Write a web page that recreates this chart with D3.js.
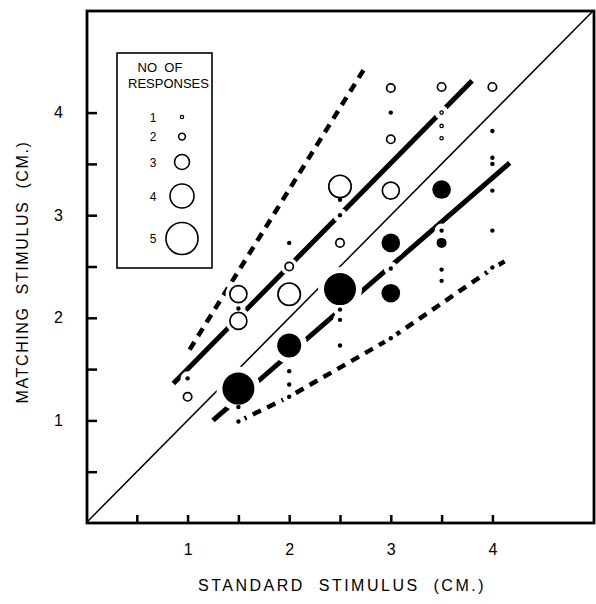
<!DOCTYPE html>
<html>
<head>
<meta charset="utf-8">
<script src="https://cdn.jsdelivr.net/npm/d3@7"></script>
<style>
  body { margin: 0; background: #fff; }
  text { font-family: "Liberation Sans", Arial, Helvetica, sans-serif; fill: #000; }
</style>
</head>
<body>
<div id="chart"></div>
<script>
// tick values and labels
const xTicks = [0.5, 1, 1.5, 2, 2.5, 3, 3.5, 4];
const yTicks = [0.5, 1, 1.5, 2, 2.5, 3, 3.5, 4];
const legendCounts = [1, 2, 3, 4, 5];

// open circles: [standard, matching, no. of responses]
const openPts = [
  [1, 1.23, 2],
  [1.5, 2.23, 3], [1.5, 1.97, 3],
  [2, 2.5, 2], [2, 2.23, 4],
  [2.5, 3.28, 4], [2.5, 2.73, 2],
  [3, 4.24, 2], [3, 3.74, 2], [3, 3.24, 3],
  [3.5, 4.25, 2], [3.5, 4.0, 1], [3.5, 3.87, 1], [3.5, 3.75, 1],
  [4, 4.25, 2]
];

// filled circles: [standard, matching, no. of responses]
const filledPts = [
  [1, 1.41, 1],
  [1.5, 2.09, 1], [1.5, 1.31, 5], [1.5, 1.13, 1], [1.5, 0.99, 1],
  [2, 2.73, 1], [2, 1.73, 4], [2, 1.48, 1], [2, 1.35, 1], [2, 1.23, 1],
  [2.5, 3.15, 1], [2.5, 3.0, 1], [2.5, 2.28, 5], [2.5, 2.08, 1], [2.5, 1.98, 1], [2.5, 1.73, 1],
  [3, 4.0, 1], [3, 2.73, 3], [3, 2.48, 1], [3, 2.24, 3], [3, 1.8, 1],
  [3.5, 3.25, 3], [3.5, 2.85, 1], [3.5, 2.73, 2], [3.5, 2.47, 1], [3.5, 2.36, 1],
  [4, 3.82, 1], [4, 3.56, 1], [4, 3.5, 1], [4, 3.24, 1], [4, 2.85, 1], [4, 2.49, 1]
];

// lines
const identityLine = [[0, 0], [5, 5]];
const upperFit = [[0.86, 1.36], [3.8, 4.31]];
const lowerFit = [[1.25, 1.0], [4.17, 3.51]];
const upperBound = [[1.02, 1.69], [2.76, 4.46]];
const lowerBound = [[1.5, 0.99], [2, 1.23], [3, 1.8], [4, 2.48], [4.12, 2.55]];

const width = 596, height = 604;
const x = d3.scaleLinear().domain([0, 5]).range([86, 594]);
const y = d3.scaleLinear().domain([0, 5]).range([523, 10]);
const plotR = d3.scaleOrdinal().domain(legendCounts).range([2.2, 5, 9.3, 12, 16]);
const legendR = d3.scaleOrdinal().domain(legendCounts).range([1.7, 3.4, 7.5, 12, 16]);

const svg = d3.select("#chart").append("svg").attr("width", width).attr("height", height);

svg.append("clipPath").attr("id", "clip")
  .append("rect").attr("x", 87).attr("y", 11).attr("width", 507).attr("height", 512);

const line = d3.line().x(d => x(d[0])).y(d => y(d[1]));
const plot = svg.append("g").attr("clip-path", "url(#clip)");

// identity line
plot.append("path").datum(identityLine).attr("d", line)
  .attr("fill", "none").attr("stroke", "#000").attr("stroke-width", 1.5);

// fitted lines
[upperFit, lowerFit].forEach(l => {
  plot.append("path").datum(l).attr("d", line)
    .attr("fill", "none").attr("stroke", "#000").attr("stroke-width", 5);
});

// range bounds
[upperBound, lowerBound].forEach(l => {
  plot.append("path").datum(l).attr("d", line)
    .attr("fill", "none").attr("stroke", "#000").attr("stroke-width", 4.5)
    .attr("stroke-dasharray", "9,7");
});

const pts = openPts.map(d => ({ sx: d[0], my: d[1], n: d[2], filled: false }))
  .concat(filledPts.map(d => ({ sx: d[0], my: d[1], n: d[2], filled: true })));

// white halos cut the lines around the marks
plot.selectAll("circle.halo").data(pts).join("circle")
  .attr("class", "halo")
  .attr("cx", d => x(d.sx)).attr("cy", d => y(d.my))
  .attr("r", d => plotR(d.n) + (d.n === 1 ? 4.8 : d.filled ? 6 : 3.5))
  .attr("fill", "#fff");

plot.selectAll("circle.pt").data(pts).join("circle")
  .attr("class", "pt")
  .attr("cx", d => x(d.sx)).attr("cy", d => y(d.my))
  .attr("r", d => d.filled ? plotR(d.n) : plotR(d.n) - (d.n === 1 ? 0.5 : 0.8))
  .attr("fill", d => d.filled ? "#000" : "#fff")
  .attr("stroke", d => d.filled ? "none" : "#000")
  .attr("stroke-width", d => d.n === 1 ? 1.3 : 1.7);

// axes with inward ticks
const fmt = d => Number.isInteger(d) ? d : "";
const xAxis = svg.append("g").attr("transform", "translate(0,523)")
  .call(d3.axisBottom(x).tickValues(xTicks).tickSize(-8).tickPadding(21).tickFormat(fmt));
const yAxis = svg.append("g").attr("transform", "translate(87,0)")
  .call(d3.axisLeft(y).tickValues(yTicks).tickSize(-10).tickPadding(24).tickFormat(fmt));
[xAxis, yAxis].forEach(a => {
  a.select(".domain").remove();
  a.selectAll(".tick line").attr("stroke", "#000").attr("stroke-width", 2.5);
  a.selectAll(".tick text").attr("font-size", 16).attr("font-family", null);
});

// frame
svg.append("rect").attr("x", 87).attr("y", 11).attr("width", 507).attr("height", 512)
  .attr("fill", "none").attr("stroke", "#000").attr("stroke-width", 2.8);

// axis titles
svg.append("text").attr("x", 342).attr("y", 591).attr("text-anchor", "middle")
  .attr("font-size", 16).attr("letter-spacing", 2.5).style("white-space", "pre")
  .text("STANDARD  STIMULUS  (CM.)");
svg.append("text").attr("transform", "translate(28,272) rotate(-90)").attr("text-anchor", "middle")
  .attr("font-size", 16).attr("letter-spacing", 1.6).style("white-space", "pre")
  .text("MATCHING  STIMULUS  (CM.)");

// legend
const lg = svg.append("g");
lg.append("rect").attr("x", 117).attr("y", 53).attr("width", 95).attr("height", 215)
  .attr("fill", "#fff").attr("stroke", "#000").attr("stroke-width", 1.6);
lg.append("text").attr("x", 160).attr("y", 72).attr("text-anchor", "middle")
  .attr("font-size", 13).style("white-space", "pre").text("NO  OF");
lg.append("text").attr("x", 168.5).attr("y", 88).attr("text-anchor", "middle")
  .attr("font-size", 13).text("RESPONSES");

let rowY = 117;
const rows = legendCounts.map((n, i) => {
  if (i > 0) rowY += legendR(legendCounts[i - 1]) + legendR(n) + 14.5;
  return { n, cy: rowY };
});
const row = lg.selectAll("g.row").data(rows).join("g").attr("class", "row");
row.append("circle").attr("cx", 182).attr("cy", d => d.cy).attr("r", d => legendR(d.n))
  .attr("fill", "none").attr("stroke", "#000").attr("stroke-width", d => d.n === 1 ? 1.2 : 1.6);
row.append("text").attr("x", 153).attr("y", d => d.cy + 4.5).attr("text-anchor", "middle")
  .attr("font-size", 12).text(d => d.n);
</script>
</body>
</html>
